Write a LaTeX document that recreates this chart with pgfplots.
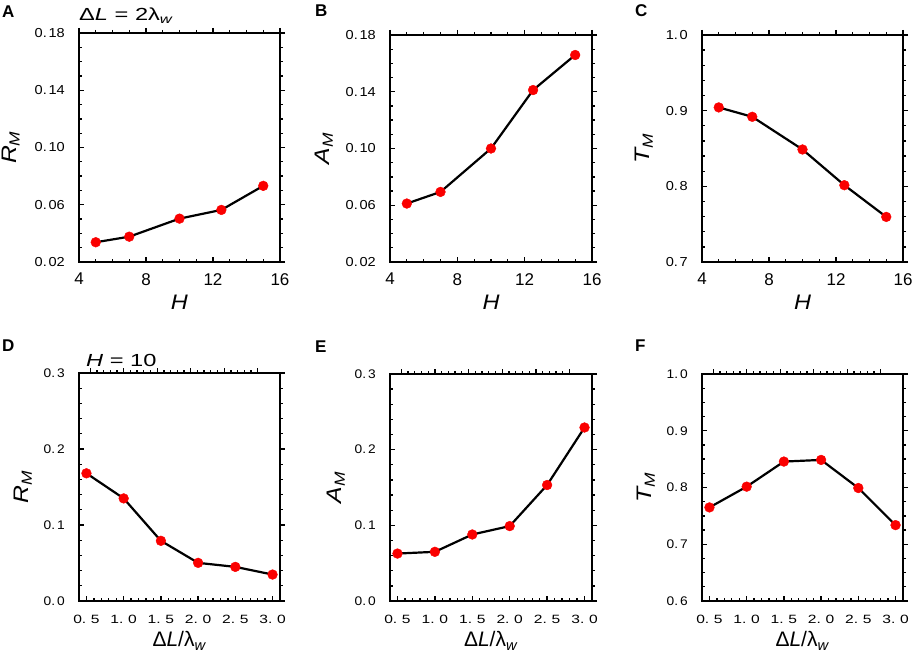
\documentclass[border=0pt]{standalone}
\usepackage{fontspec}
\setmainfont{Liberation Sans}
\usepackage{graphicx}
\usepackage{pgfplots}
\pgfplotsset{compat=1.18}
\definecolor{mred}{RGB}{250,0,0}
\newcommand{\ya}[2]{\scalebox{1.12}[1]{#1.\hspace{0.12em}#2}}
\newcommand{\xb}[2]{\scalebox{1.3}[1]{#1.\hspace{0.3em}#2}}
\newcommand{\yb}[2]{\scalebox{1.1}[1]{#1.\hspace{0.15em}#2}}
\newcommand{\yl}[2]{\scalebox{1.18}[1]{\textit{#1\textsubscript{#2}}}}
\pgfplotsset{
  common/.style={scale only axis, anchor=south west,
    axis line style={line width=1.8pt},
    every tick/.style={black,line width=1.3pt},
    major tick length=5pt, minor tick length=3pt, clip=false},
  mainax/.style={common, tick align=inside, xtick pos=left, ytick pos=left,
    every x tick label/.append style={inner sep=0pt},
    every y tick label/.append style={inner sep=0pt},
    yticklabel shift=14pt,
    every axis x label/.style={at={(axis description cs:0.5,0)},anchor=north,inner sep=0pt,font=\fontsize{21}{24}\selectfont},
    every axis y label/.style={rotate=90,anchor=south,inner sep=0pt,font=\fontsize{21}{24}\selectfont}},
  overax/.style={common, tick align=outside, xtick pos=right, ytick pos=right,
    xticklabels={}, yticklabels={}, axis line style={draw=none}},
  toprow/.style={xmin=4,xmax=16,xtick={4,8,12,16},minor x tick num=3,
    xticklabel shift=11pt,
    xlabel style={yshift=-33pt}},
  toprowmain/.style={toprow,xticklabels={4,8,12,16},
    xticklabel style={font=\fontsize{17}{20}\selectfont},
    yticklabel style={font=\fontsize{13}{15}\selectfont}},
  botrow/.style={xmin=0.4,xmax=3.1,
    xticklabel shift=14pt,
    xlabel style={yshift=-30.5pt}},
  botrowmain/.style={botrow,xtick={0.5,1.0,1.5,2.0,2.5,3.0},minor x tick num=4,
    xticklabels={\xb{0}{5},\xb{1}{0},\xb{1}{5},\xb{2}{0},\xb{2}{5},\xb{3}{0}},
    xticklabel style={font=\fontsize{12}{14}\selectfont},
    yticklabel style={font=\fontsize{12.5}{14}\selectfont}},
  botrowover/.style={botrow,xtick={0.55,1.0,1.45,1.9,2.35,2.8},minor x tick num=4},
  yA/.style={ymin=0.02,ymax=0.18,ytick={0.02,0.06,0.10,0.14,0.18},minor y tick num=3},
  yC/.style={ymin=0.7,ymax=1.0,ytick={0.7,0.8,0.9,1.0},minor y tick num=4},
  yD/.style={ymin=0,ymax=0.3,ytick={0,0.1,0.2,0.3},minor y tick num=4},
  yF/.style={ymin=0.6,ymax=1.0,ytick={0.6,0.7,0.8,0.9,1.0},minor y tick num=3},
  dots/.style={only marks, mark=*, mark size=4.9pt, color=mred, mark options={draw=mred,fill=mred}},
  curve/.style={black, line width=2.2pt, mark=none},
}
\begin{document}
\begin{tikzpicture}
\useasboundingbox (0,0) rectangle (913pt,654pt);
% ---------- A ----------
\begin{axis}[mainax, toprowmain, yA, at={(79pt,392pt)}, width=201pt, height=229pt,
  yticklabels={\ya{0}{02},\ya{0}{06},\ya{0}{10},\ya{0}{14},\ya{0}{18}},
  xlabel={\scalebox{1.12}[1]{\textit{H}}}, ylabel={\yl{R}{M}},
  ylabel style={at={(axis description cs:-0.294,0.5)}}]
\addplot[dots] coordinates {(5,0.0338) (7,0.0377) (10,0.0503) (12.5,0.0564) (15,0.0732)};
\addplot[curve] coordinates {(5,0.0338) (7,0.0377) (10,0.0503) (12.5,0.0564) (15,0.0732)};
\end{axis}
\begin{axis}[overax, toprow, yA, at={(79pt,392pt)}, width=201pt, height=229pt]
\addplot[draw=none] coordinates {(5,0.05)};
\end{axis}
% ---------- B ----------
\begin{axis}[mainax, toprowmain, yA, at={(390pt,392pt)}, width=202pt, height=227pt,
  yticklabels={\ya{0}{02},\ya{0}{06},\ya{0}{10},\ya{0}{14},\ya{0}{18}},
  xlabel={\scalebox{1.12}[1]{\textit{H}}}, ylabel={\yl{A}{M}},
  ylabel style={at={(axis description cs:-0.282,0.5)}}]
\addplot[dots] coordinates {(5,0.0612) (7,0.0694) (10,0.1000) (12.5,0.1412) (15,0.1659)};
\addplot[curve] coordinates {(5,0.0612) (7,0.0694) (10,0.1000) (12.5,0.1412) (15,0.1659)};
\end{axis}
\begin{axis}[overax, toprow, yA, at={(390pt,392pt)}, width=202pt, height=227pt]
\addplot[draw=none] coordinates {(5,0.05)};
\end{axis}
% ---------- C ----------
\begin{axis}[mainax, toprowmain, yC, at={(702pt,392pt)}, width=201pt, height=227pt,
  yticklabels={\ya{0}{7},\ya{0}{8},\ya{0}{9},\ya{1}{0}},
  xlabel={\scalebox{1.12}[1]{\textit{H}}}, ylabel={\yl{T}{M}},
  ylabel style={at={(axis description cs:-0.244,0.5)}}]
\addplot[dots] coordinates {(5,0.9043) (7,0.8919) (10,0.8487) (12.5,0.8015) (15,0.7596)};
\addplot[curve] coordinates {(5,0.9043) (7,0.8919) (10,0.8487) (12.5,0.8015) (15,0.7596)};
\end{axis}
\begin{axis}[overax, toprow, yC, at={(702pt,392pt)}, width=201pt, height=227pt]
\addplot[draw=none] coordinates {(5,0.8)};
\end{axis}
% ---------- D ----------
\begin{axis}[mainax, botrowmain, yD, at={(79pt,53pt)}, width=201pt, height=228pt,
  yticklabels={\yb{0}{0},\yb{0}{1},\yb{0}{2},\yb{0}{3}},
  xlabel={Δ\textit{L}/λ\textsubscript{\textit{w}}}, ylabel={\yl{R}{M}},
  ylabel style={at={(axis description cs:-0.234,0.5)}}]
\addplot[dots] coordinates {(0.5,0.168) (1.0,0.135) (1.5,0.0792) (2.0,0.0502) (2.5,0.0449) (3.0,0.0348)};
\addplot[curve] coordinates {(0.5,0.168) (1.0,0.135) (1.5,0.0792) (2.0,0.0502) (2.5,0.0449) (3.0,0.0348)};
\end{axis}
\begin{axis}[overax, botrowover, yD, at={(79pt,53pt)}, width=201pt, height=228pt]
\addplot[draw=none] coordinates {(1,0.1)};
\end{axis}
% ---------- E ----------
\begin{axis}[mainax, botrowmain, yD, at={(390pt,53pt)}, width=202pt, height=227pt,
  yticklabels={\yb{0}{0},\yb{0}{1},\yb{0}{2},\yb{0}{3}},
  xlabel={Δ\textit{L}/λ\textsubscript{\textit{w}}}, ylabel={\yl{A}{M}},
  ylabel style={at={(axis description cs:-0.223,0.5)}}]
\addplot[dots] coordinates {(0.5,0.0627) (1.0,0.065) (1.5,0.0879) (2.0,0.099) (2.5,0.1533) (3.0,0.2293)};
\addplot[curve] coordinates {(0.5,0.0627) (1.0,0.065) (1.5,0.0879) (2.0,0.099) (2.5,0.1533) (3.0,0.2293)};
\end{axis}
\begin{axis}[overax, botrowover, yD, at={(390pt,53pt)}, width=202pt, height=227pt]
\addplot[draw=none] coordinates {(1,0.1)};
\end{axis}
% ---------- F ----------
\begin{axis}[mainax, botrowmain, yF, at={(702pt,53pt)}, width=201pt, height=227pt,
  yticklabels={\yb{0}{6},\yb{0}{7},\yb{0}{8},\yb{0}{9},\yb{1}{0}},
  xlabel={Δ\textit{L}/λ\textsubscript{\textit{w}}}, ylabel={\yl{T}{M}},
  ylabel style={at={(axis description cs:-0.234,0.5)}}]
\addplot[dots] coordinates {(0.5,0.7649) (1.0,0.8015) (1.5,0.8457) (2.0,0.8486) (2.5,0.7991) (3.0,0.7337)};
\addplot[curve] coordinates {(0.5,0.7649) (1.0,0.8015) (1.5,0.8457) (2.0,0.8486) (2.5,0.7991) (3.0,0.7337)};
\end{axis}
\begin{axis}[overax, botrowover, yF, at={(702pt,53pt)}, width=201pt, height=227pt]
\addplot[draw=none] coordinates {(1,0.8)};
\end{axis}
% ---------- panel letters and titles ----------
\begin{scope}[every node/.style={anchor=base west, inner sep=0pt, font=\fontsize{17}{20}\selectfont\bfseries}]
\node at (2pt,636pt) {A};
\node at (315pt,637pt) {B};
\node at (635pt,637pt) {C};
\node at (2pt,302pt) {D};
\node at (315pt,301pt) {E};
\node at (635pt,302pt) {F};
\end{scope}
\node[anchor=base west, inner sep=0pt, font=\fontsize{17.5}{20}\selectfont] at (79pt,633pt) {\scalebox{1.35}[1]{Δ\textit{L} = 2λ\textsubscript{\textit{w}}}};
\node[anchor=base west, inner sep=0pt, font=\fontsize{17.5}{20}\selectfont] at (86pt,287pt) {\scalebox{1.35}[1]{\textit{H} = 10}};
\end{tikzpicture}
\end{document}
